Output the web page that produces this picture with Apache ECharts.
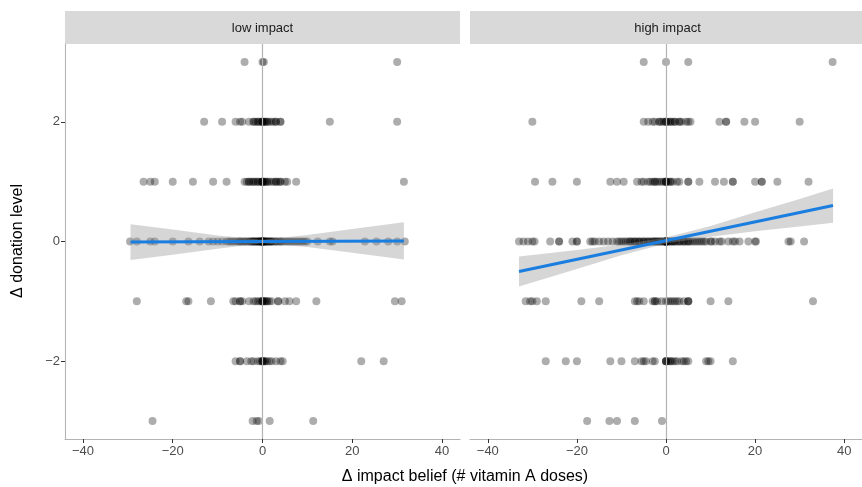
<!DOCTYPE html>
<html>
<head>
<meta charset="utf-8">
<script src="https://cdn.jsdelivr.net/npm/echarts@6/dist/echarts.min.js"></script>
<style>
  html, body { margin: 0; padding: 0; background: #fff; }
  #chart { width: 862px; height: 487px; }
</style>
</head>
<body>
<div id="chart"></div>
<script>
// facet titles
var facetNames = ['low impact', 'high impact'];
var xTicks = [-40, -20, 0, 20, 40];
var yTicks = [-2, 0, 2];

// low impact: x values (Δ impact belief) per Δ donation level
var lowAt3 = [-4, 0, 0.3, 30];
var lowAt2 = [-13, -9, -6, -5, -4.5, -3, -2, -2, -1.5, -1, -1, -0.5, 0, 0, 0, 0, 0.5, 0.5, 1, 1, 1.5, 2, 2.5, 3, 3, 4, 4, 15, 30];
var lowAt1 = [-26.5, -25, -24, -20, -15.5, -11, -8, -4, -3.5, -3, -3, -2.5, -2, -2, -1.5, -1, -1, -0.5, 0, 0, 0, 0, 0, 0.5, 0.5, 1, 1, 1.5, 2, 2.5, 3, 3, 3.5, 4, 4, 5, 5.5, 7.5, 31.5];
var lowAt0 = [-29.5, -28, -25, -24, -20, -16.5, -14, -12, -11, -10, -9, -8, -7.5, -7, -6.5, -6, -5.5, -5, -5, -4.5, -4, -4, -3.5, -3, -3, -2.5, -2.5, -2, -2, -2, -1.5, -1.5, -1, -1, -1, -0.5, -0.5, -0.5, 0, 0, 0, 0, 0, 0, 0, 0, 0, 0, 0.5, 0.5, 0.5, 1, 1, 1, 1.5, 1.5, 2, 2, 2, 2.5, 3, 3, 3.5, 4, 4, 4.5, 5, 5.5, 6, 6.5, 7, 7.5, 8, 8.5, 9, 9.5, 10, 12.3, 15, 15.6, 22.8, 25.4, 28, 30, 31.7];
var lowAtM1 = [-28, -17, -16.5, -11.5, -6.5, -6, -5, -5, -4.5, -3, -2, -1.5, -1, -0.5, 0, 0, 0, 0, 0.5, 0.5, 1, 1, 1.5, 2, 3.5, 3.5, 5, 6, 7.5, 12, 29.5, 31];
var lowAtM2 = [-6, -5, -5, -3.5, -2.5, -2, -1, -0.5, 0, 0, 0, 0, 0.5, 0.5, 1, 1.5, 2, 3, 4, 4.5, 22, 27];
var lowAtM3 = [-24.5, -2.2, -1.3, -0.8, 1.6, 11.3];

// high impact
var highAt3 = [-5, 0, 5, 37.4];
var highAt2 = [-30, -5, -4, -3, -2.5, -1.5, -1.5, -1, -0.5, 0, 0, 0, 0.5, 1, 1, 1.5, 2, 2, 3, 3, 3.5, 4.5, 5, 5.5, 12, 13.5, 13.5, 17.6, 20, 30];
var highAt1 = [-29.4, -25.5, -20, -12.5, -11, -9.5, -6.5, -5.5, -5, -4, -3.5, -3, -2.5, -2.5, -2, -1.5, -1, -0.5, 0, 0, 0, 0, 0.5, 1, 1, 1.5, 2.5, 3, 5, 5, 7.5, 11, 13, 15, 15, 20, 21.5, 21.5, 25, 32];
var highAt0 = [-33, -32, -31, -30, -29.5, -26, -24, -24, -21, -20, -20, -17, -16.5, -16, -15, -14, -13, -12, -11, -10.5, -10, -9.5, -9, -8.5, -8, -8, -7.5, -7, -7, -6.5, -6, -6, -5.5, -5, -5, -4.5, -4, -4, -3.5, -3, -3, -2.5, -2.5, -2, -2, -1.5, -1.5, -1, -1, -0.5, -0.5, 0, 0, 0, 0, 0, 0, 0, 0, 0.5, 0.5, 1, 1, 1.5, 1.5, 2, 2, 2.5, 3, 3, 3.5, 4, 4, 4.5, 5, 5, 5.5, 6, 6.5, 7, 7.5, 8, 8.5, 9, 10, 10.2, 11, 12, 12.5, 14, 15, 15.5, 16.5, 18.5, 20, 20.2, 27.5, 28, 31];
var highAtM1 = [-31.5, -30.5, -30, -29, -27, -19, -15, -7, -6.5, -6, -5, -3, -2.5, -2.5, -2, -1, 0, 0.5, 1, 1.5, 2, 2.5, 3, 4, 5, 5, 5, 10, 14, 33];
var highAtM2 = [-27, -22.5, -20, -12.5, -10, -7, -5.5, -5, -4.5, -3, -2.5, 0, 0, 0, 0, 0.5, 1, 1, 1.5, 2, 2.5, 3.5, 4, 4.5, 5, 9, 9.5, 10, 15];
var highAtM3 = [-17.7, -12.7, -11, -7, -0.9];

// linear fits and confidence bands
var lowFitX = [-29.4, 31.5];
var lowFitY = [-0.01, 0.01];
var lowBandX = [-29.4, -20, -10, 0, 10, 20, 31.5];
var lowBandUpper = [0.29, 0.20, 0.10, 0.03, 0.11, 0.21, 0.32];
var lowBandLower = [-0.31, -0.22, -0.12, -0.03, -0.09, -0.19, -0.30];

var highFitX = [-33, 37.5];
var highFitY = [-0.5, 0.6];
var highBandX = [-33, -20, -10, 0, 10, 20, 30, 37.5];
var highBandUpper = [-0.25, -0.14, -0.05, 0.065, 0.26, 0.49, 0.71, 0.885];
var highBandLower = [-0.75, -0.46, -0.23, -0.035, 0.08, 0.17, 0.25, 0.315];

var levels = [3, 2, 1, 0, -1, -2, -3];
var lowRows = [lowAt3, lowAt2, lowAt1, lowAt0, lowAtM1, lowAtM2, lowAtM3];
var highRows = [highAt3, highAt2, highAt1, highAt0, highAtM1, highAtM2, highAtM3];

function toPoints(rows) {
  var out = [];
  rows.forEach(function (xs, i) {
    xs.forEach(function (x) { out.push([x, levels[i]]); });
  });
  return out;
}

function minus(v) {
  return String(v).replace('-', '\u2212');
}

var tickColor = '#333333';
var lineColor = '#b3b3b3';
var labelColor = '#4d4d4d';
var blue = '#1a7ee0';

function makeX(idx) {
  return {
    type: 'value', gridIndex: idx, min: -44, max: 44,
    axisLine: { show: true, onZero: false, lineStyle: { color: lineColor, width: 1.1 } },
    axisTick: { show: true, length: 4, customValues: xTicks, lineStyle: { color: tickColor } },
    axisLabel: { customValues: xTicks, margin: 6, color: labelColor, fontSize: 13, fontFamily: 'Liberation Sans', formatter: minus },
    splitLine: { show: false }
  };
}

function makeY(idx) {
  var show = idx === 0;
  return {
    type: 'value', gridIndex: idx, min: -3.3, max: 3.3,
    axisLine: { show: show, onZero: false, lineStyle: { color: lineColor, width: 1.1 } },
    axisTick: { show: show, length: 4, customValues: yTicks, lineStyle: { color: tickColor } },
    axisLabel: { show: show, customValues: yTicks, margin: 5, color: labelColor, fontSize: 13, fontFamily: 'Liberation Sans', formatter: minus },
    splitLine: { show: false }
  };
}

function bandSeries(idx, xs, up, lo) {
  return {
    type: 'custom', xAxisIndex: idx, yAxisIndex: idx, silent: true, z: 3,
    data: [[xs[0], lo[0]]],
    renderItem: function (params, api) {
      var pts = [];
      for (var i = 0; i < xs.length; i++) pts.push(api.coord([xs[i], up[i]]));
      for (var j = xs.length - 1; j >= 0; j--) pts.push(api.coord([xs[j], lo[j]]));
      return { type: 'polygon', shape: { points: pts }, style: { fill: 'rgba(153,153,153,0.4)' } };
    }
  };
}

function scatterSeries(idx, rows) {
  return {
    type: 'scatter', xAxisIndex: idx, yAxisIndex: idx, z: 2,
    symbolSize: 8,
    itemStyle: { color: 'rgba(0,0,0,0.4)' },
    data: toPoints(rows),
    markLine: {
      silent: true, symbol: 'none', label: { show: false },
      lineStyle: { color: lineColor, width: 1.2, type: 'solid' },
      data: [{ xAxis: 0 }]
    }
  };
}

function fitSeries(idx, xs, ys) {
  return {
    type: 'line', xAxisIndex: idx, yAxisIndex: idx, z: 4,
    symbol: 'none', silent: true,
    lineStyle: { color: blue, width: 3 },
    data: xs.map(function (x, i) { return [x, ys[i]]; })
  };
}

var panelLeft = [65, 470];
var panelW = 395;

var chart = echarts.init(document.getElementById('chart'), null, { renderer: 'canvas' });
chart.setOption({
  animation: false,
  backgroundColor: '#ffffff',
  grid: [
    { left: panelLeft[0], top: 44, width: panelW, height: 395 },
    { left: panelLeft[1], top: 44, width: panelW, height: 395 }
  ],
  xAxis: [makeX(0), makeX(1)],
  yAxis: [makeY(0), makeY(1)],
  graphic: [
    { type: 'rect', left: panelLeft[0], top: 11, shape: { width: panelW, height: 33 }, style: { fill: '#d9d9d9' } },
    { type: 'rect', left: panelLeft[1], top: 11, shape: { width: panelW, height: 33 }, style: { fill: '#d9d9d9' } },
    { type: 'text', x: panelLeft[0] + panelW / 2, y: 28, style: { text: facetNames[0], fill: '#1a1a1a', font: '13px "Liberation Sans"', textAlign: 'center', textVerticalAlign: 'middle' } },
    { type: 'text', x: panelLeft[1] + panelW / 2, y: 28, style: { text: facetNames[1], fill: '#1a1a1a', font: '13px "Liberation Sans"', textAlign: 'center', textVerticalAlign: 'middle' } },
    { type: 'text', x: 465, y: 477, style: { text: '\u0394 impact belief (# vitamin A doses)', fill: '#000', font: '16px "Liberation Sans"', textAlign: 'center', textVerticalAlign: 'middle' } },
    { type: 'text', x: 18, y: 241, rotation: Math.PI / 2, style: { text: '\u0394 donation level', fill: '#000', font: '16px "Liberation Sans"', textAlign: 'center', textVerticalAlign: 'middle' } }
  ],
  series: [
    scatterSeries(0, lowRows),
    bandSeries(0, lowBandX, lowBandUpper, lowBandLower),
    fitSeries(0, lowFitX, lowFitY),
    scatterSeries(1, highRows),
    bandSeries(1, highBandX, highBandUpper, highBandLower),
    fitSeries(1, highFitX, highFitY)
  ]
});
</script>
</body>
</html>
